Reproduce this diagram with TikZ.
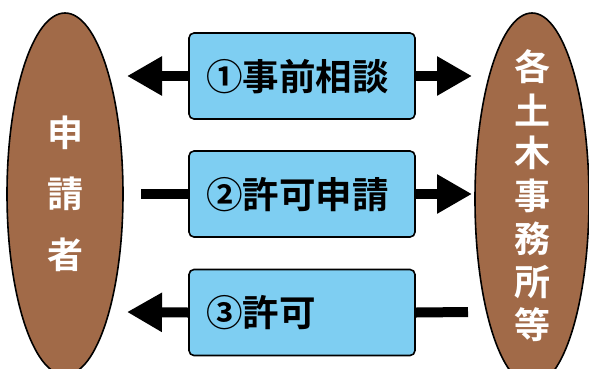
\documentclass[tikz,border=0pt]{standalone}
\usepackage{fontspec}
\newfontfamily\jp{Noto Sans CJK JP}[BoldFont={Noto Sans CJK JP Bold}]
\usetikzlibrary{arrows.meta,shapes.geometric}
\pgfdeclarelayer{background}
\pgfsetlayers{background,main}
\definecolor{brownfill}{RGB}{161,106,72}
\definecolor{boxblue}{RGB}{126,206,242}
\tikzset{
  party/.style={ellipse, draw=black, line width=1.6pt, fill=brownfill, inner sep=0pt},
  stepbox/.style={draw=black, line width=1.6pt, fill=boxblue, rounded corners=5pt, minimum width=226pt, minimum height=86pt, inner sep=0pt},
  boxtext/.style={font=\jp\bfseries\fontsize{36.5}{36.5}\selectfont, text=black, anchor=west, inner sep=0pt},
  elltext/.style={font=\jp\bfseries\fontsize{36}{36}\selectfont, text=white, inner sep=0pt},
  flow/.style={line width=10pt, -{Triangle[length=35pt,width=37pt]}},
  bar/.style={line width=10pt}
}
\begin{document}
\begin{tikzpicture}[x=1pt,y=-1pt]
\useasboundingbox (0,0) rectangle (589,368);
\node[party, minimum width=116pt, minimum height=362pt] (L) at (65,194) {};
\node[party, minimum width=114pt, minimum height=372pt] (R) at (532,199) {};
% left labels
\node[elltext] (l1) at (65,133) {申};
\node[elltext] (l2) at (65,194) {請};
\node[elltext] (l3) at (65,255) {者};
% right labels
\node[elltext] (r1) at (532,67) {各};
\node[elltext] (r2) at (532,110) {土};
\node[elltext] (r3) at (532,153) {木};
\node[elltext] (r4) at (532,196) {事};
\node[elltext] (r5) at (532,239) {務};
\node[elltext] (r6) at (532,282) {所};
\node[elltext] (r7) at (532,325) {等};
% boxes
\node[stepbox] (b1) at (302,76) {};
\node[stepbox] (b2) at (302,194) {};
\node[stepbox] (b3) at (302,312.5) {};
\node[boxtext] (t1) at (206,77) {①事前相談};
\node[boxtext] (t2) at (206,195) {②許可申請};
\node[boxtext] (t3) at (206,313) {③許可};
% arrow free ends
\coordinate (a1l) at (127,76);
\coordinate (a1r) at (472,76);
\coordinate (a2s) at (141,194);
\coordinate (a2r) at (472,194);
\coordinate (a3l) at (127,312);
\coordinate (a3s) at (468,312);
% connectors
\begin{pgfonlayer}{background}
\draw[flow] (b1.west) -- (a1l);
\draw[flow] (b1.east) -- (a1r);
\draw[bar] (a2s) -- (b2.west);
\draw[flow] (b2.east) -- (a2r);
\draw[bar] (a3s) -- (b3.east);
\draw[flow] (b3.west) -- (a3l);
\end{pgfonlayer}
\end{tikzpicture}
\end{document}
